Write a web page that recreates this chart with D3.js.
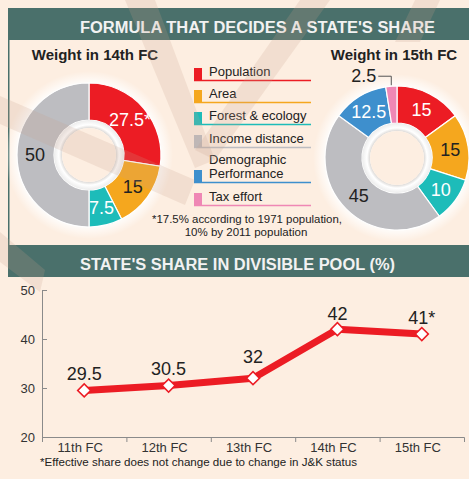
<!DOCTYPE html>
<html>
<head>
<meta charset="utf-8">
<script src="https://cdn.jsdelivr.net/npm/d3@7"></script>
<style>
  html, body { margin: 0; padding: 0; background: #fdeee1; }
  svg { display: block; font-family: "Liberation Sans", Arial, sans-serif; }
</style>
</head>
<body>
<div id="chart"></div>
<script>
// ---- data ----
const factors = ["Population", "Area", "Forest & ecology", "Income distance", "Demographic Performance", "Tax effort"];
const weights14 = [27.5, 15, 7.5, 50, 0, 0];
const labels14 = ["27.5*", "15", "7.5", "50", "", ""];
const weights15 = [15, 15, 10, 45, 12.5, 2.5];
const labels15 = ["15", "15", "10", "45", "12.5", "2.5"];
const commissions = ["11th FC", "12th FC", "13th FC", "14th FC", "15th FC"];
const shares = [29.5, 30.5, 32, 42, 41];
const shareLabels = ["29.5", "30.5", "32", "42", "41*"];
const yTicks = [20, 30, 40, 50];

const W = 469, H = 479;
const bg = "#fdeee1";
const teal = "#4a706b";

const color = d3.scaleOrdinal()
  .domain(factors)
  .range(["#ec1c24", "#f5a71e", "#1dbcb9", "#bdbdc1", "#3e8fcd", "#ef87b5"]);
const darkText = new Set(["Area", "Income distance"]);

const svg = d3.select("#chart").append("svg")
  .attr("width", W).attr("height", H);

svg.append("rect").attr("width", W).attr("height", H).attr("fill", bg);

// gradients for the donut glow and inner ring
const defs = svg.append("defs");
const halo = defs.append("radialGradient").attr("id", "halo");
halo.append("stop").attr("offset", "0.8").attr("stop-color", "#fff").attr("stop-opacity", 0.95);
halo.append("stop").attr("offset", "0.88").attr("stop-color", "#fff").attr("stop-opacity", 0.7);
halo.append("stop").attr("offset", "1").attr("stop-color", "#fff").attr("stop-opacity", 0);
const ring = defs.append("radialGradient").attr("id", "ring");
ring.append("stop").attr("offset", "0.76").attr("stop-color", "#d9d6d3");
ring.append("stop").attr("offset", "0.86").attr("stop-color", "#ffffff");
ring.append("stop").attr("offset", "1").attr("stop-color", "#ececec");

// ---- header bands ----
function header(y, text, cx, len) {
  svg.append("rect").attr("x", 8).attr("y", y).attr("width", W - 8).attr("height", 32).attr("fill", teal);
  svg.append("text")
    .attr("x", cx).attr("y", y + 25)
    .attr("text-anchor", "middle")
    .attr("fill", "#f2f2f2")
    .attr("font-size", 16).attr("font-weight", "bold")
    .attr("textLength", len).attr("lengthAdjust", "spacingAndGlyphs")
    .text(text);
}

svg.append("line")
  .attr("x1", 8.75).attr("x2", 8.75).attr("y1", 40).attr("y2", 245)
  .attr("stroke", teal).attr("stroke-width", 1.5);

header(8, "FORMULA THAT DECIDES A STATE'S SHARE", 257.5, 355);
header(245, "STATE'S SHARE IN DIVISIBLE POOL (%)", 237.5, 315);

// ---- donuts ----
function drawDonut(cx, cy, weights, labels, title, titleX) {
  const rOuter = 72, rInner = 35, rHole = 27, rLabel = 54;

  svg.append("text")
    .attr("x", titleX).attr("y", 60)
    .attr("text-anchor", "middle")
    .attr("font-size", 15).attr("font-weight", "bold").attr("fill", "#222")
    .text(title);

  const g = svg.append("g").attr("transform", `translate(${cx},${cy})`);
  g.append("circle").attr("r", rOuter + 12).attr("fill", "url(#halo)");

  const rows = factors.map((f, i) => ({ factor: f, value: weights[i], label: labels[i] }))
    .filter(d => d.value > 0);
  const arcs = d3.pie().sort(null).value(d => d.value)(rows);
  const arc = d3.arc().innerRadius(rInner).outerRadius(rOuter);
  const labelArc = d3.arc().innerRadius(rLabel).outerRadius(rLabel);

  g.selectAll("path.slice")
    .data(arcs)
    .join("path")
    .attr("class", "slice")
    .attr("d", arc)
    .attr("fill", d => color(d.data.factor))
    .attr("stroke", "#fff")
    .attr("stroke-width", 1.2);

  g.append("path")
    .attr("d", d3.arc().innerRadius(rHole).outerRadius(rInner)({ startAngle: 0, endAngle: 2 * Math.PI }))
    .attr("fill", "url(#ring)");
  g.append("circle").attr("r", rHole).attr("fill", bg);

  const big = arcs.filter(d => d.endAngle - d.startAngle > 0.3);
  const small = arcs.filter(d => d.endAngle - d.startAngle <= 0.3);

  g.selectAll("text.val")
    .data(big)
    .join("text")
    .attr("class", "val")
    .attr("transform", d => `translate(${labelArc.centroid(d)})`)
    .attr("text-anchor", "middle")
    .attr("dy", "0.35em")
    .attr("font-size", 18)
    .attr("fill", d => darkText.has(d.data.factor) ? "#222" : "#fff")
    .text(d => d.data.label);

  // thin slices get a label outside with a leader line
  small.forEach(d => {
    const a = (d.startAngle + d.endAngle) / 2;
    const px = Math.sin(a) * (rOuter + 1), py = -Math.cos(a) * (rOuter + 1);
    g.append("path")
      .attr("d", `M${px},${py}V${py - 9}H${px - 13}`)
      .attr("fill", "none").attr("stroke", "#555").attr("stroke-width", 1);
    g.append("text")
      .attr("x", px - 15).attr("y", py - 3)
      .attr("text-anchor", "end")
      .attr("font-size", 18).attr("fill", "#222")
      .text(d.data.label);
  });
}

drawDonut(89, 155, weights14, labels14, "Weight in 14th FC", 95);
drawDonut(397, 158, weights15, labels15, "Weight in 15th FC", 394);

// ---- legend ----
const legendRows = [
  { lines: ["Population"], base: 80 },
  { lines: ["Area"], base: 102 },
  { lines: ["Forest & ecology"], base: 124 },
  { lines: ["Income distance"], base: 147 },
  { lines: ["Demographic", "Performance"], base: 182 },
  { lines: ["Tax effort"], base: 205 }
];
const legend = svg.append("g");
legendRows.forEach((r, i) => {
  const c = color(factors[i]);
  legend.append("rect").attr("x", 194).attr("y", r.base - 12).attr("width", 8).attr("height", 12).attr("fill", c);
  legend.append("line").attr("x1", 194).attr("x2", 311).attr("y1", r.base + 0.5).attr("y2", r.base + 0.5)
    .attr("stroke", c).attr("stroke-width", 1.5);
  r.lines.forEach((t, j) => {
    legend.append("text")
      .attr("x", 209).attr("y", r.base - 4 - (r.lines.length - 1 - j) * 14)
      .attr("font-size", 13).attr("fill", "#222")
      .text(t);
  });
});

svg.append("text").attr("x", 247).attr("y", 223).attr("text-anchor", "middle")
  .attr("font-size", 11.5).attr("fill", "#222")
  .attr("textLength", 190).attr("lengthAdjust", "spacingAndGlyphs")
  .text("*17.5% according to 1971 population,");
svg.append("text").attr("x", 246).attr("y", 236).attr("text-anchor", "middle")
  .attr("font-size", 11.5).attr("fill", "#222")
  .text("10% by 2011 population");

// ---- line chart ----
const x = d3.scaleBand().domain(commissions).range([42, 464]);
const y = d3.scaleLinear().domain([20, 50]).range([437, 290]);
const cxOf = d => x(d) + x.bandwidth() / 2;

const yAxis = d3.axisLeft(y).tickValues(yTicks).tickSizeInner(-5).tickSizeOuter(-5).tickPadding(7);
const gy = svg.append("g").attr("transform", "translate(42,0)").call(yAxis);
gy.selectAll("text").attr("font-size", 13).attr("fill", "#333").attr("font-family", null);

const xAxis = d3.axisBottom(x).tickSizeInner(0).tickSizeOuter(5).tickPadding(6);
const gx = svg.append("g").attr("transform", "translate(0,437)").call(xAxis);
gx.selectAll("text").attr("font-size", 13).attr("fill", "#333").attr("font-family", null).attr("dx", -4);
gx.selectAll("line.bound")
  .data(commissions.slice(1))
  .join("line")
  .attr("class", "bound")
  .attr("x1", d => x(d) + 0.5).attr("x2", d => x(d) + 0.5)
  .attr("y1", 0).attr("y2", 5);
[gx, gy].forEach(a => {
  a.selectAll("path, line").attr("stroke", "#8a8a8a");
});

const pts = commissions.map((c, i) => ({ fc: c, v: shares[i], label: shareLabels[i] }));
const line = d3.line().x(d => cxOf(d.fc)).y(d => y(d.v));

svg.append("path")
  .datum(pts)
  .attr("d", line)
  .attr("fill", "none")
  .attr("stroke", "#ec1c24")
  .attr("stroke-width", 7)
  .attr("stroke-linejoin", "round");

svg.selectAll("path.mark")
  .data(pts)
  .join("path")
  .attr("class", "mark")
  .attr("d", d3.symbol(d3.symbolSquare, 85))
  .attr("transform", d => `translate(${cxOf(d.fc)},${y(d.v)}) rotate(45)`)
  .attr("fill", "#fff")
  .attr("stroke", "#ec1c24")
  .attr("stroke-width", 1.6);

// y of the polyline at a given x, to lift value labels clear of the line
function lineYAt(px) {
  for (let i = 0; i < pts.length - 1; i++) {
    const x0 = cxOf(pts[i].fc), x1 = cxOf(pts[i + 1].fc);
    if (px >= x0 && px <= x1) {
      const t = (px - x0) / (x1 - x0);
      return y(pts[i].v) + t * (y(pts[i + 1].v) - y(pts[i].v));
    }
  }
  return Infinity;
}

const valueLabels = svg.selectAll("text.share")
  .data(pts)
  .join("text")
  .attr("class", "share")
  .attr("x", d => cxOf(d.fc))
  .attr("text-anchor", "middle")
  .attr("font-size", 18)
  .attr("fill", "#222")
  .text(d => d.label);
valueLabels.attr("y", function (d) {
  const hw = this.getComputedTextLength() / 2;
  const px = cxOf(d.fc);
  return Math.min(y(d.v), lineYAt(px - hw), lineYAt(px + hw)) - 9;
});

svg.append("text")
  .attr("x", 40).attr("y", 466)
  .attr("font-size", 11.5).attr("fill", "#222")
  .attr("textLength", 317).attr("lengthAdjust", "spacingAndGlyphs")
  .text("*Effective share does not change due to change in J&K status");

// ---- faint watermark bands ----
const bands = [
  [[125, 0], [155, 0], [215, 160], [195, 168]],
  [[300, 0], [330, 0], [215, 160], [195, 150]],
  [[0, 96], [0, 124], [185, 205], [195, 180]],
  [[0, 232], [0, 262], [40, 292], [45, 270]],
  [[415, 0], [440, 0], [420, 42], [395, 42]]
];
svg.append("g")
  .attr("pointer-events", "none")
  .selectAll("path")
  .data(bands)
  .join("path")
  .attr("d", d => d3.line()(d) + "Z")
  .attr("fill", "#c8a08a")
  .attr("opacity", 0.2);
</script>
</body>
</html>
